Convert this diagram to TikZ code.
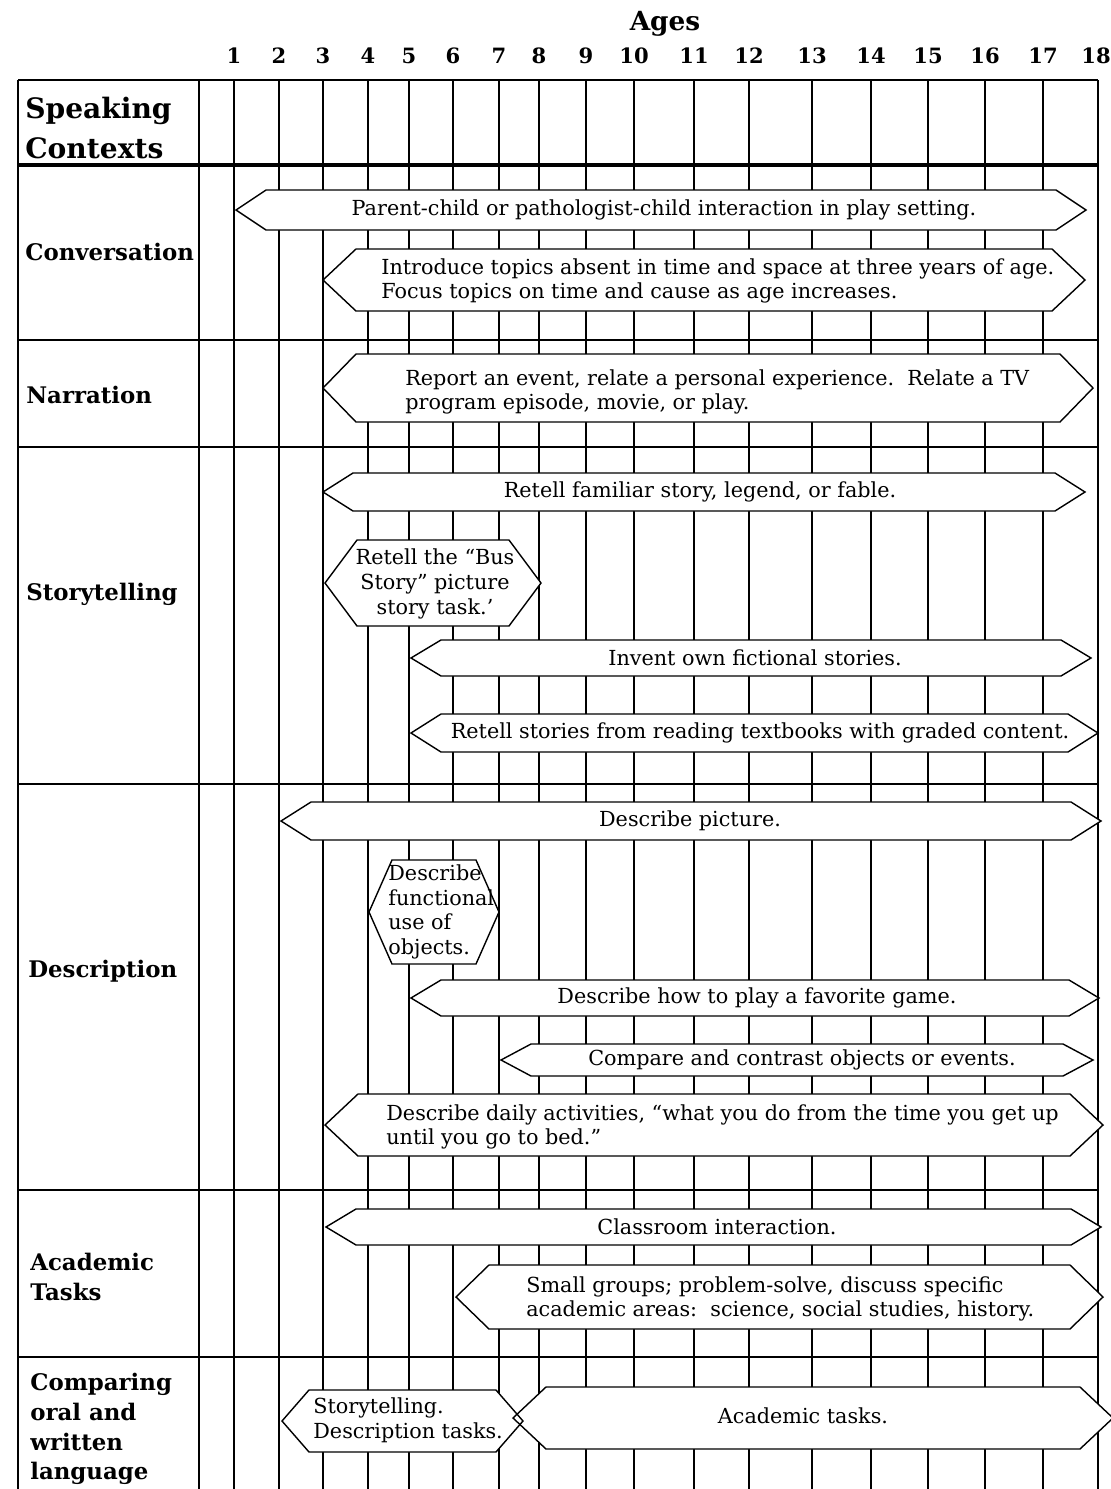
\documentclass[tikz,border=0pt]{standalone}
\usepackage{fontspec}
\setmainfont{DejaVu Serif}
\usetikzlibrary{positioning}

% left tip, right tip, middle, half height, tip width
\newcommand{\ctxbar}[6]{%
  \path[#1] (#2,#4) -- (#2+#6,#4-#5) -- (#3-#6,#4-#5) -- (#3,#4)
    -- (#3-#6,#4+#5) -- (#2+#6,#4+#5) -- cycle;}

\begin{document}
\begin{tikzpicture}[
  x=0.02cm, y=-0.02cm,
  gridline/.style={draw=black, line width=0.8pt},
  rowline/.style={draw=black, line width=1.2pt},
  headline/.style={draw=black, line width=2.4pt},
  barfill/.style={fill=white},
  baredge/.style={draw=black, line width=0.8pt, line join=miter},
  bartext/.style={font=\fontsize{11.8}{14}\selectfont, inner sep=0pt},
  rowlabel/.style={font=\fontsize{13}{17}\selectfont\bfseries, anchor=west, align=left, inner sep=0pt},
  agelabel/.style={font=\fontsize{12}{14}\selectfont\bfseries, inner sep=0pt}
]
  \useasboundingbox (0,0) rectangle (1111,1489);
  \fill[white] (0,0) rectangle (1111,1489);

  \foreach \xa in {199,234,279,323,368,409,453,499,539,586,634,694,749,812,871,928,985,1043,1098}
    \draw[gridline] (\xa,80) -- (\xa,1489);
  \draw[gridline] (18,80) -- (18,1489);
  \draw[rowline] (18,80) -- (1098,80);
  \draw[headline] (18,165) -- (1098,165);
  \foreach \ya in {340,447,784,1190,1357}
    \draw[rowline] (18,\ya) -- (1098,\ya);

  \foreach \xa [count=\ia] in {234,279,323,368,409,453,499,539,586,634,694,749,812,871,928,985,1043,1096}
    \node[agelabel] (age\ia) at (\xa,56) {\ia};
  \node[font=\fontsize{15}{18}\selectfont\bfseries, inner sep=0pt] (agestitle) at (665,24) {Ages};

  \node[rowlabel, font=\fontsize{16}{22.5}\selectfont\bfseries] (speaking) at (25,128) {Speaking\\Contexts};
  \node[rowlabel] (conversation) at (25,252) {Conversation};
  \node[rowlabel] (narration) at (26,395) {Narration};
  \node[rowlabel] (storytelling) at (26,594) {Storytelling};
  \node[rowlabel] (description) at (28,971) {Description};
  \node[rowlabel] (academic) at (30,1277) {Academic\\Tasks};
  \node[rowlabel] (comparing) at (30,1429) {Comparing\\oral and\\written\\language};

  \ctxbar{barfill,baredge}{236}{1086}{210}{20}{30}
  \ctxbar{barfill,baredge}{323}{1085}{280}{31}{33}
  \ctxbar{barfill,baredge}{323}{1093}{388}{34}{33}
  \ctxbar{barfill,baredge}{323}{1085}{492}{19}{30}
  \ctxbar{barfill,baredge}{325}{541}{583}{43}{32}
  \ctxbar{barfill,baredge}{411}{1091}{658}{18}{30}
  \ctxbar{barfill,baredge}{411}{1098}{733}{19}{30}
  \ctxbar{barfill,baredge}{281}{1101}{821}{19}{30}
  \ctxbar{barfill,baredge}{369}{499}{912}{52}{23}
  \ctxbar{barfill,baredge}{411}{1099}{998}{18}{30}
  \ctxbar{barfill,baredge}{501}{1093}{1060}{16}{30}
  \ctxbar{barfill,baredge}{325}{1103}{1125}{31}{33}
  \ctxbar{barfill,baredge}{326}{1101}{1227}{18}{30}
  \ctxbar{barfill,baredge}{456}{1103}{1297}{32}{33}
  \ctxbar{barfill}{282}{523}{1421}{31}{27}
  \ctxbar{barfill}{513}{1113}{1418}{31}{33}
  \ctxbar{baredge}{282}{523}{1421}{31}{27}
  \ctxbar{baredge}{513}{1113}{1418}{31}{33}

  \node[bartext] (parentchild) at (664,210) {Parent-child or pathologist-child interaction in play setting.};
  \node[bartext, anchor=west, align=left] (introduce) at (381,281) {Introduce topics absent in time and space at three years of age.\\Focus topics on time and cause as age increases.};
  \node[bartext, anchor=west, align=left] (report) at (405,392) {Report an event, relate a personal experience.\ \ Relate a TV\\program episode, movie, or play.};
  \node[bartext] (familiar) at (700,492) {Retell familiar story, legend, or fable.};
  \node[bartext, align=center] (busstory) at (435,584) {Retell the “Bus\\Story” picture\\story task.’};
  \node[bartext] (invent) at (755,658) {Invent own fictional stories.};
  \node[bartext] (textbooks) at (760,733) {Retell stories from reading textbooks with graded content.};
  \node[bartext] (picture) at (690,821) {Describe picture.};
  \node[bartext, anchor=west, align=left] (functional) at (388,912) {Describe\\functional\\use of\\objects.};
  \node[bartext] (game) at (757,998) {Describe how to play a favorite game.};
  \node[bartext] (compare) at (802,1060) {Compare and contrast objects or events.};
  \node[bartext, anchor=west, align=left] (daily) at (386,1127) {Describe daily activities, “what you do from the time you get up\\until you go to bed.”};
  \node[bartext] (classroom) at (717,1227) {Classroom interaction.};
  \node[bartext, anchor=west, align=left] (smallgroups) at (526,1299) {Small groups; problem-solve, discuss specific\\academic areas:\ \ science, social studies, history.};
  \node[bartext, anchor=west, align=left] (oralstory) at (313,1420) {Storytelling.\\Description tasks.};
  \node[bartext] (academictasks) at (803,1416) {Academic tasks.};
\end{tikzpicture}
\end{document}
